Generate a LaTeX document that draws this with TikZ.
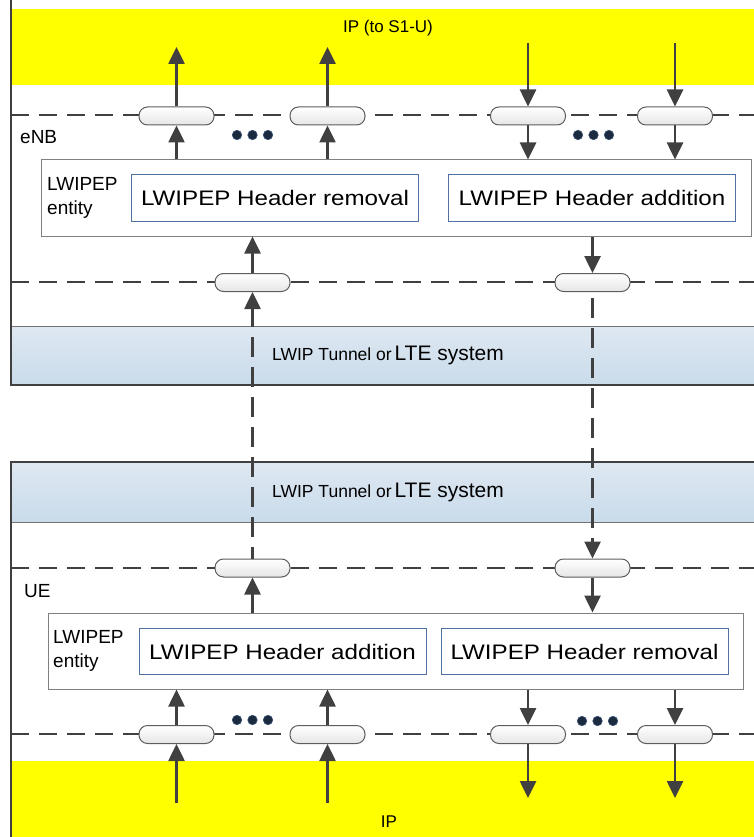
\documentclass[tikz,border=0pt]{standalone}
\usepackage{fontspec}
\setmainfont{Liberation Sans}
\newfontfamily\hfont[FakeStretch=1.15]{Liberation Sans}
\usetikzlibrary{arrows.meta}
\definecolor{ln}{HTML}{404040}
\definecolor{ylw}{HTML}{FFFF00}
\definecolor{bandtop}{HTML}{DEE8F2}
\definecolor{bandbot}{HTML}{C9DBEA}
\definecolor{inbl}{HTML}{4F71A3}
\definecolor{dotc}{HTML}{1C2A40}
\tikzset{
  pill/.style={draw=ln!85, line width=1pt, rounded corners=8.5pt, minimum width=75pt, minimum height=18pt, inner sep=0pt, top color=white, bottom color=black!10},
  arr/.style={draw=ln, line width=2.6pt, -{Triangle[length=17pt,width=16pt]}},
  dashln/.style={draw=ln, line width=2.5pt, dash pattern=on 18pt off 10pt},
  vdash/.style={draw=ln, line width=2.6pt, dash pattern=on 20pt off 10pt},
  frameln/.style={draw=ln, line width=2.8pt},
  entbox/.style={draw=black!50, line width=1pt, fill=white, inner sep=0pt},
  inbox/.style={draw=inbl, line width=1pt, fill=white, inner sep=0pt, minimum width=287pt, minimum height=46pt, font=\hfont\fontsize{21}{24}\selectfont},
  band/.style={top color=bandtop, bottom color=bandbot, draw=none},
  dotst/.style={circle, fill=dotc, draw=inbl!70!black, line width=0.6pt, minimum size=9.5pt, inner sep=0pt},
  lbl/.style={font=\fontsize{19}{24}\selectfont, inner sep=0pt},
}
\begin{document}
\begin{tikzpicture}[x=1pt,y=-1pt]
\useasboundingbox (0,0) rectangle (754,837);
% backgrounds
\fill[ylw] (12,9) rectangle (754,85);
\fill[ylw] (12,761) rectangle (754,837);
\shade[band] (11,326) rectangle (754,385);
\shade[band] (11,462) rectangle (754,522);
\draw[black!55, line width=1pt] (11,326) -- (754,326);
\draw[black!55, line width=1pt] (11,522) -- (754,522);
% frames
\draw[frameln] (11,0) -- (11,385) -- (754,385);
\draw[frameln] (754,462) -- (11,462) -- (11,837);
% texts
\node[font=\fontsize{17}{20}\selectfont] (iptop) at (388,28) {IP (to S1-U)};
\node[font=\fontsize{17}{20}\selectfont] (ipbot) at (389,822) {IP};
\node[lbl, anchor=west] (enb) at (20,137) {eNB};
\node[lbl, anchor=west] (ue) at (24,591) {UE};
\node[anchor=center, inner sep=0pt] (tun1) at (388,355) {{\fontsize{17.5}{20}\selectfont LWIP Tunnel or} {\fontsize{21}{22}\selectfont LTE system}};
\node[anchor=center, inner sep=0pt] (tun2) at (388,492) {{\fontsize{17.5}{20}\selectfont LWIP Tunnel or} {\fontsize{21}{22}\selectfont LTE system}};
% dashed layer lines
\draw[dashln] (11,115) -- (754,115);
\draw[dashln] (11,282) -- (754,282);
\draw[dashln] (11,568) -- (754,568);
\draw[dashln] (11,734) -- (754,734);
% entity boxes
\node[entbox, minimum width=710pt, minimum height=76pt] (ebox) at (396,198) {};
\node[lbl, anchor=west, align=left] (elbl) at (47,198) {LWIPEP\\entity};
\node[inbox] (erem) at (275,198) {LWIPEP Header removal};
\node[inbox] (eadd) at (592,198) {LWIPEP Header addition};
\node[entbox, minimum width=695pt, minimum height=76pt] (ubox) at (395.5,651) {};
\node[lbl, anchor=west, align=left] (ulbl) at (53,651) {LWIPEP\\entity};
\node[inbox] (uadd) at (282.5,651.5) {LWIPEP Header addition};
\node[inbox] (urem) at (584.5,651.5) {LWIPEP Header removal};
% pills
\node[pill] (p1) at (176.5,116) {};
\node[pill] (p2) at (327.5,116) {};
\node[pill] (p3) at (528,116) {};
\node[pill] (p4) at (675,116) {};
\node[pill] (q1) at (252.5,282.5) {};
\node[pill] (q2) at (592.5,282.5) {};
\node[pill] (r1) at (252.5,568) {};
\node[pill] (r2) at (592.5,568) {};
\node[pill] (s1) at (176.5,734.5) {};
\node[pill] (s2) at (327.5,734.5) {};
\node[pill] (s3) at (528,734.5) {};
\node[pill] (s4) at (675,734.5) {};
% dots
\foreach \i/\x in {1/237,2/252.5,3/268}{\node[dotst] (dt\i) at (\x,135) {};}
\foreach \i/\x in {1/578,2/593.5,3/609}{\node[dotst] (du\i) at (\x,135) {};}
\foreach \i/\x in {1/237,2/252.5,3/268}{\node[dotst] (dv\i) at (\x,720) {};}
\foreach \i/\x in {1/582,2/597.5,3/613}{\node[dotst] (dw\i) at (\x,721) {};}
% coordinates for free ends
\coordinate (t1) at (176.5,47);
\coordinate (t2) at (327.5,47);
\coordinate (t3) at (528,43);
\coordinate (t4) at (675,43);
\coordinate (b1) at (176.5,803);
\coordinate (b2) at (327.5,803);
\coordinate (b3) at (528,798);
\coordinate (b4) at (675,798);
\coordinate (bandA) at (252.5,326);
% top arrows
\draw[arr] (ebox.north -| p1) -- (p1.south);
\draw[arr] (p1.north) -- (t1);
\draw[arr] (ebox.north -| p2) -- (p2.south);
\draw[arr] (p2.north) -- (t2);
\draw[arr] (t3) -- (p3.north);
\draw[arr] (p3.south) -- (ebox.north -| p3);
\draw[arr] (t4) -- (p4.north);
\draw[arr] (p4.south) -- (ebox.north -| p4);
% middle eNB
\draw[arr] (bandA) -- (q1.south);
\draw[arr] (q1.north) -- (ebox.south -| q1);
\draw[arr] (ebox.south -| q2) -- (q2.north);
% tunnel dashed
\draw[vdash, dash phase=-11pt] (bandA) -- (r1.north);
\draw[vdash, dash phase=-6pt, -{Triangle[length=17pt,width=16pt]}] (q2.south) -- (r2.north);
% UE
\draw[arr] (ubox.north -| r1) -- (r1.south);
\draw[arr] (r2.south) -- (ubox.north -| r2);
% bottom arrows
\draw[arr] (s1.north) -- (ubox.south -| s1);
\draw[arr] (b1) -- (s1.south);
\draw[arr] (s2.north) -- (ubox.south -| s2);
\draw[arr] (b2) -- (s2.south);
\draw[arr] (ubox.south -| s3) -- (s3.north);
\draw[arr] (s3.south) -- (b3);
\draw[arr] (ubox.south -| s4) -- (s4.north);
\draw[arr] (s4.south) -- (b4);
\end{tikzpicture}
\end{document}
